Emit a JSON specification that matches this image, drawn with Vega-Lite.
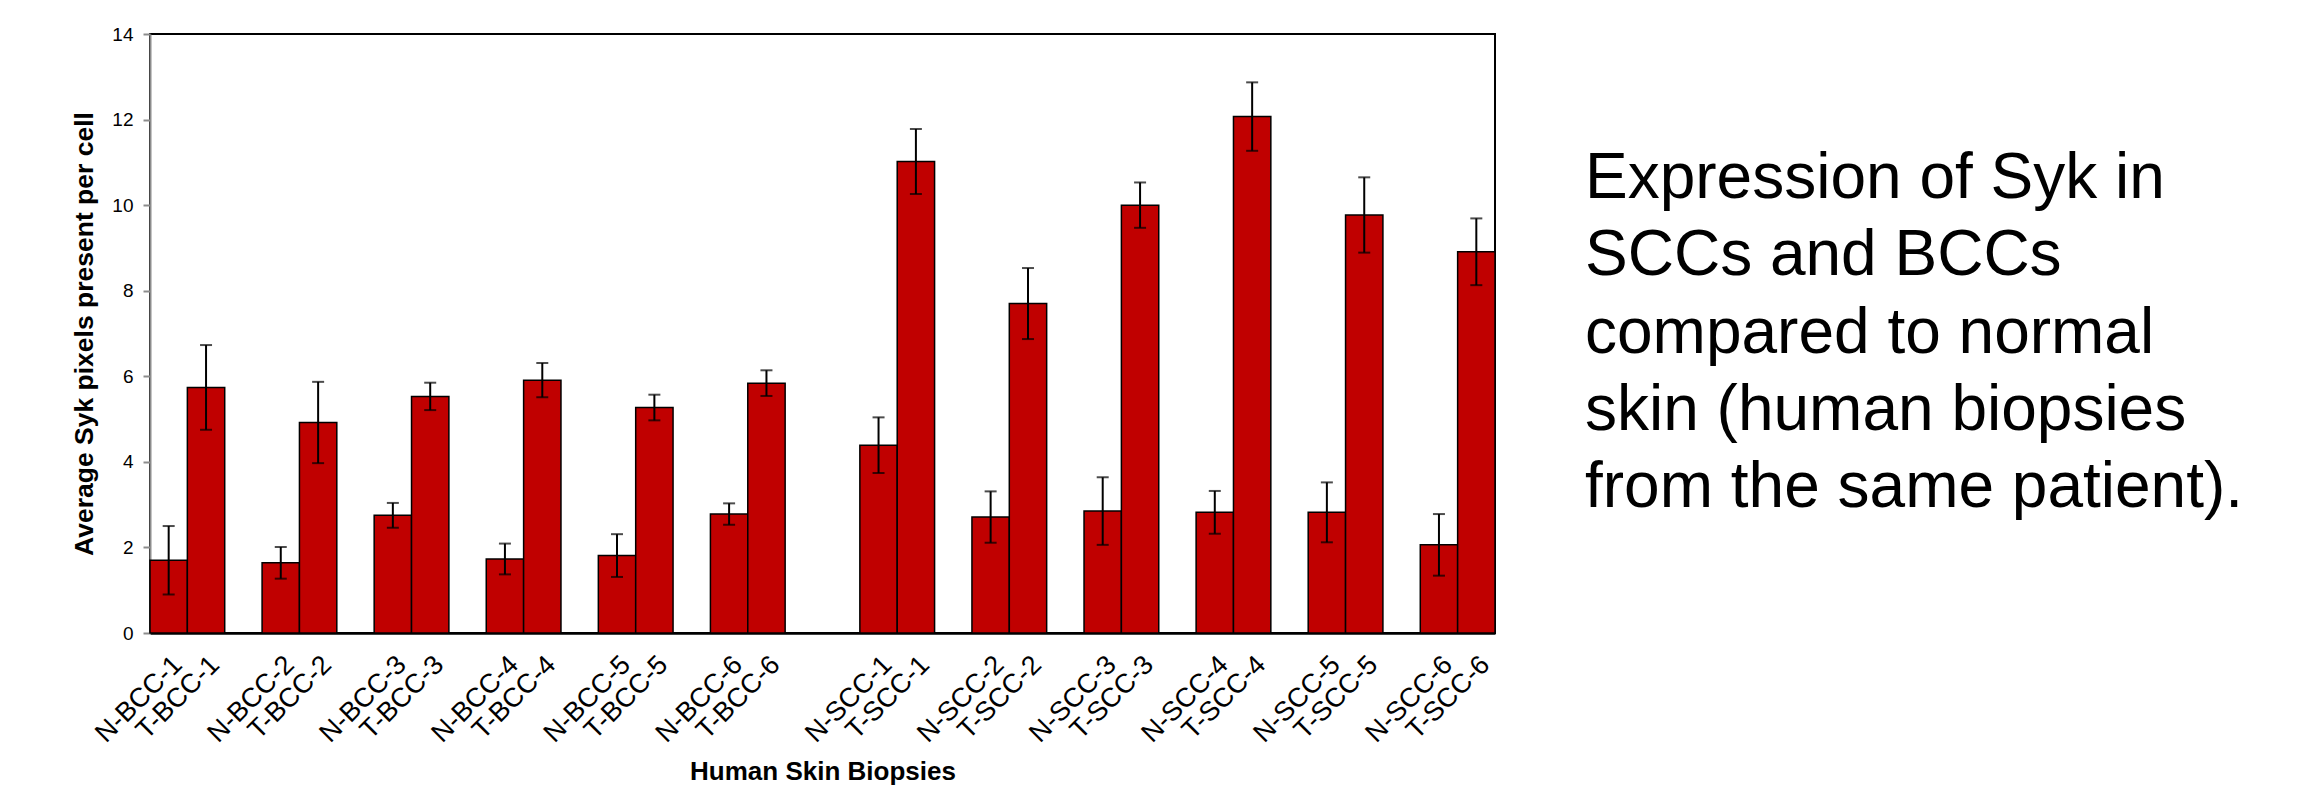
{
  "$schema": "https://vega.github.io/schema/vega-lite/v6.json",
  "background": "white",
  "padding": {"left": 70, "top": 24, "right": 5, "bottom": 2},
  "config": {"font": "Liberation Sans", "view": {"stroke": null}},
  "spacing": 10,
  "bounds": "flush",
  "hconcat": [
    {
      "width": 1345,
      "height": 599,
      "view": {"stroke": "black", "strokeWidth": 2},
      "data": {
        "values": [
          {"sample": "N-BCC-1", "value": 1.70, "err": 0.80},
          {"sample": "T-BCC-1", "value": 5.74, "err": 0.99},
          {"sample": "N-BCC-2", "value": 1.64, "err": 0.37},
          {"sample": "T-BCC-2", "value": 4.92, "err": 0.95},
          {"sample": "N-BCC-3", "value": 2.75, "err": 0.29},
          {"sample": "T-BCC-3", "value": 5.53, "err": 0.32},
          {"sample": "N-BCC-4", "value": 1.73, "err": 0.36},
          {"sample": "T-BCC-4", "value": 5.91, "err": 0.40},
          {"sample": "N-BCC-5", "value": 1.81, "err": 0.50},
          {"sample": "T-BCC-5", "value": 5.27, "err": 0.30},
          {"sample": "N-BCC-6", "value": 2.78, "err": 0.25},
          {"sample": "T-BCC-6", "value": 5.84, "err": 0.30},
          {"sample": "N-SCC-1", "value": 4.39, "err": 0.65},
          {"sample": "T-SCC-1", "value": 11.02, "err": 0.76},
          {"sample": "N-SCC-2", "value": 2.71, "err": 0.60},
          {"sample": "T-SCC-2", "value": 7.70, "err": 0.83},
          {"sample": "N-SCC-3", "value": 2.85, "err": 0.79},
          {"sample": "T-SCC-3", "value": 10.00, "err": 0.53},
          {"sample": "N-SCC-4", "value": 2.82, "err": 0.50},
          {"sample": "T-SCC-4", "value": 12.07, "err": 0.80},
          {"sample": "N-SCC-5", "value": 2.82, "err": 0.70},
          {"sample": "T-SCC-5", "value": 9.77, "err": 0.88},
          {"sample": "N-SCC-6", "value": 2.06, "err": 0.72},
          {"sample": "T-SCC-6", "value": 8.91, "err": 0.78}
        ]
      },
      "encoding": {
        "x": {
          "field": "sample",
          "type": "nominal",
          "sort": null,
          "scale": {
            "domain": ["N-BCC-1", "T-BCC-1", "g1", "N-BCC-2", "T-BCC-2", "g2", "N-BCC-3", "T-BCC-3", "g3", "N-BCC-4", "T-BCC-4", "g4", "N-BCC-5", "T-BCC-5", "g5", "N-BCC-6", "T-BCC-6", "g6", "g7", "N-SCC-1", "T-SCC-1", "g8", "N-SCC-2", "T-SCC-2", "g9", "N-SCC-3", "T-SCC-3", "g10", "N-SCC-4", "T-SCC-4", "g11", "N-SCC-5", "T-SCC-5", "g12", "N-SCC-6", "T-SCC-6"],
            "paddingInner": 0,
            "paddingOuter": 0
          },
          "axis": {
            "title": "Human Skin Biopsies",
            "titleFont": "Liberation Sans",
            "titleFontSize": 26,
            "titleFontWeight": "bold",
            "titleColor": "black",
            "titlePadding": 12,
            "values": ["N-BCC-1", "T-BCC-1", "N-BCC-2", "T-BCC-2", "N-BCC-3", "T-BCC-3", "N-BCC-4", "T-BCC-4", "N-BCC-5", "T-BCC-5", "N-BCC-6", "T-BCC-6", "N-SCC-1", "T-SCC-1", "N-SCC-2", "T-SCC-2", "N-SCC-3", "T-SCC-3", "N-SCC-4", "T-SCC-4", "N-SCC-5", "T-SCC-5", "N-SCC-6", "T-SCC-6"],
            "labelAngle": -45,
            "labelAlign": "right",
            "labelBaseline": "top",
            "labelPadding": 18,
            "labelFont": "Liberation Sans",
            "labelFontSize": 27,
            "labelColor": "black",
            "ticks": false,
            "domainColor": "black",
            "domainWidth": 2.5
          }
        }
      },
      "layer": [
        {
          "mark": {"type": "bar", "color": "#C00000", "stroke": "black", "strokeWidth": 1.5},
          "encoding": {
            "y": {
              "field": "value",
              "type": "quantitative",
              "title": "Average Syk pixels present per cell",
              "scale": {"domain": [0, 14], "nice": false},
              "axis": {
                "title": "Average Syk pixels present per cell",
                "titleFont": "Liberation Sans",
                "titleFontSize": 26.5,
                "titleFontWeight": "bold",
                "titleColor": "black",
                "titlePadding": 13,
                "values": [0, 2, 4, 6, 8, 10, 12, 14],
                "grid": false,
                "domainColor": "#8c8c8c",
                "domainWidth": 2,
                "tickColor": "#8c8c8c",
                "tickWidth": 2,
                "tickSize": 7,
                "labelFont": "Liberation Sans",
                "labelFontSize": 19,
                "labelColor": "black",
                "labelPadding": 10
              }
            }
          }
        },
        {
          "mark": {
            "type": "errorbar",
            "ticks": {"size": 12, "thickness": 2, "color": "black"},
            "rule": {"strokeWidth": 2, "color": "black"}
          },
          "encoding": {
            "y": {"field": "value", "type": "quantitative", "title": "Average Syk pixels present per cell"},
            "yError": {"field": "err"}
          }
        }
      ]
    },
    {
      "width": 160,
      "height": 599,
      "view": {"stroke": null},
      "data": {
        "values": [
          {"line": "Expression of Syk in", "order": 1},
          {"line": "SCCs and BCCs", "order": 2},
          {"line": "compared to normal", "order": 3},
          {"line": "skin (human biopsies", "order": 4},
          {"line": "from the same patient).", "order": 5}
        ]
      },
      "mark": {"type": "text", "align": "left", "baseline": "middle", "fontSize": 64, "font": "Liberation Sans", "color": "black"},
      "encoding": {
        "y": {"field": "order", "type": "ordinal", "axis": null, "scale": {"type": "point", "domain": [0, 1, 2, 3, 4, 5, 6], "padding": 0.87}},
        "text": {"field": "line"}
      }
    }
  ]
}
